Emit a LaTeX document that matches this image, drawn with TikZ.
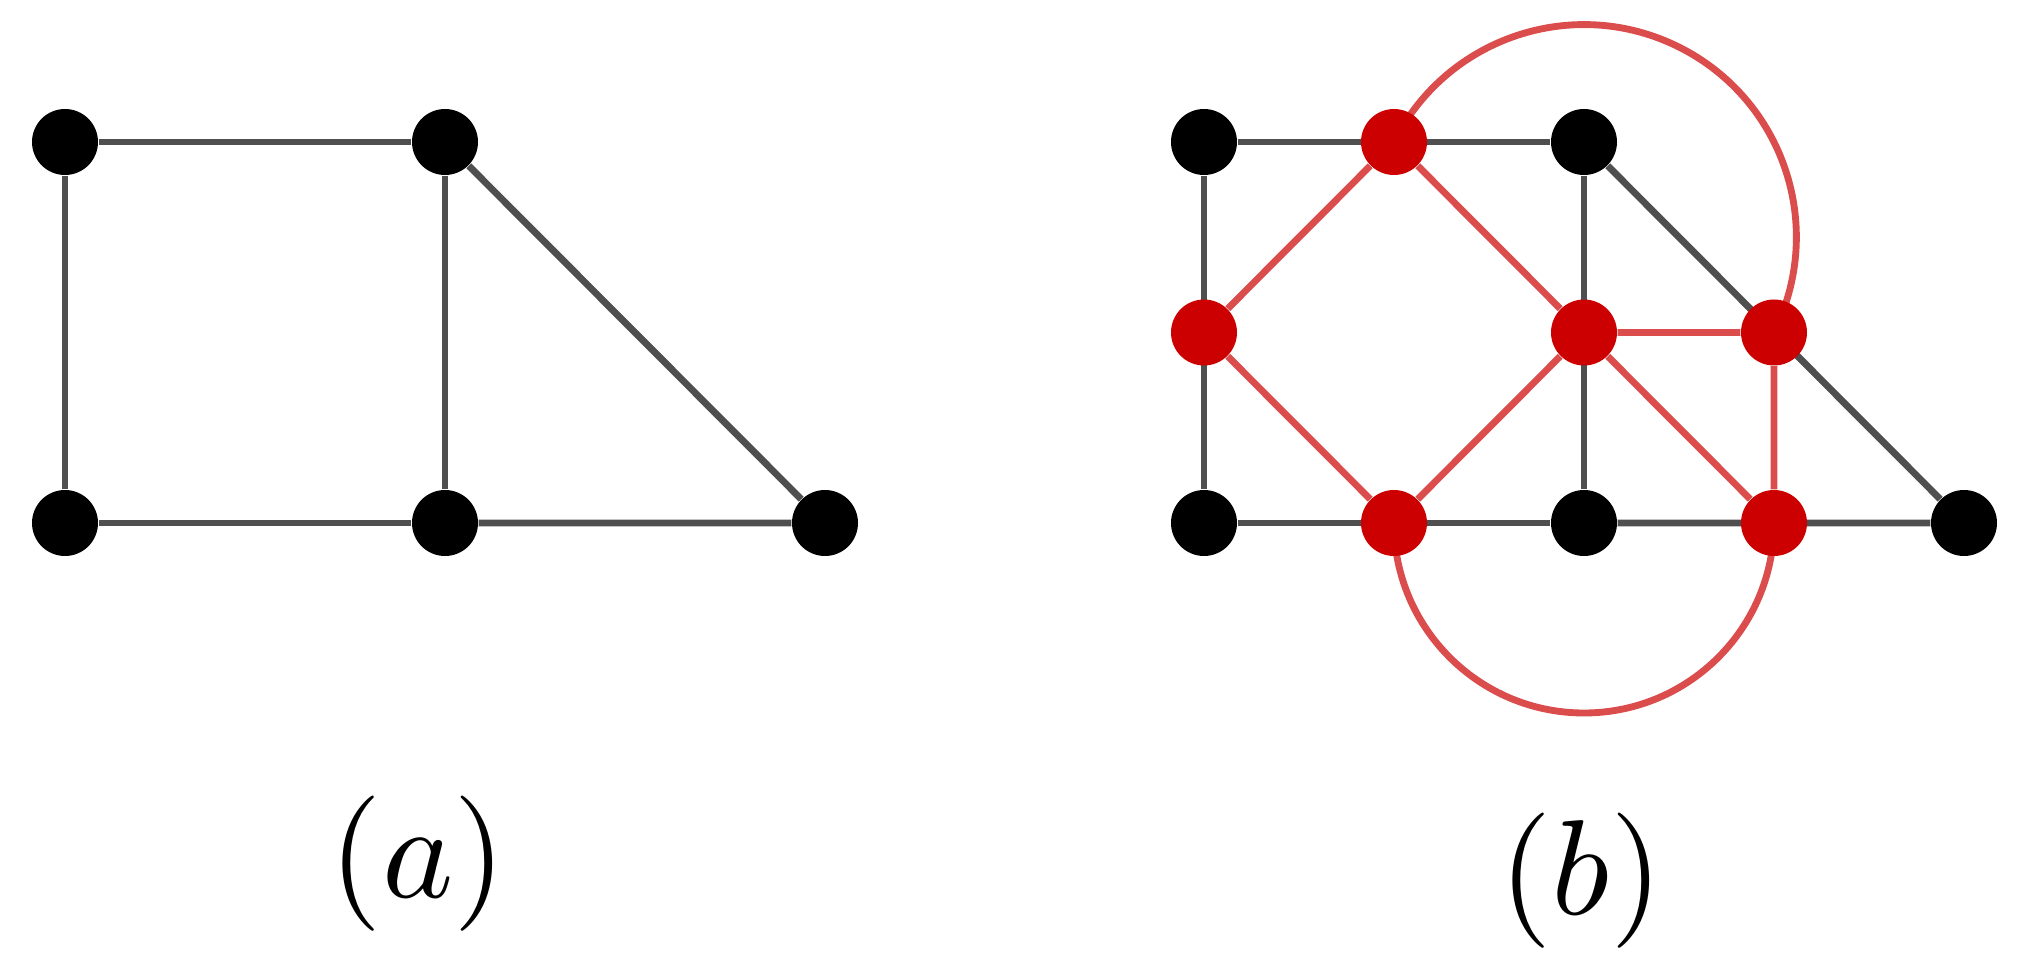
\documentclass[tikz,border=0pt]{standalone}
\usetikzlibrary{backgrounds}
\definecolor{mgray}{rgb}{0.31, 0.31, 0.31}
\definecolor{mred}{rgb}{0.8, 0, 0}
\definecolor{mpink}{rgb}{0.86, 0.3, 0.3}
\tikzset{vert/.style = {fill, circle, inner sep = 0, minimum size = 0.66cm}}
\tikzset{dual/.style = {vert, fill = mred}}
\tikzset{gedge/.style = {draw = mgray, line width = 1.95pt}}
\tikzset{dedge/.style = {draw = mpink, line width = 1.95pt}}
\tikzset{lbl/.style = {inner sep = 0, scale = 3.85}}

\begin{document}
\begin{tikzpicture}
      \useasboundingbox (0, 0) rectangle (20.22, 9.69);

      % (a)
      \node [vert] (a1) at (0.65, 8.27) {};
      \node [vert] (a2) at (4.45, 8.27) {};
      \node [vert] (a3) at (0.65, 4.46) {};
      \node [vert] (a4) at (4.45, 4.46) {};
      \node [vert] (a5) at (8.25, 4.46) {};
      \begin{scope}[on background layer]
        \draw [gedge] (a1) -- (a2) -- (a4) -- (a3) -- (a1);
        \draw [gedge] (a2) -- (a5) -- (a4);
      \end{scope}
      \node [lbl] (la) at (4.18, 1.05) {$(a)$};

      % (b)
      \node [vert] (b1) at (12.04, 8.27) {};
      \node [vert] (b2) at (15.84, 8.27) {};
      \node [vert] (b3) at (12.04, 4.46) {};
      \node [vert] (b4) at (15.84, 4.46) {};
      \node [vert] (b5) at (19.64, 4.46) {};
      \node [dual] (d1) at (13.94, 8.27) {};
      \node [dual] (d2) at (12.04, 6.365) {};
      \node [dual] (d3) at (15.84, 6.365) {};
      \node [dual] (d4) at (17.74, 6.365) {};
      \node [dual] (d5) at (13.94, 4.46) {};
      \node [dual] (d6) at (17.74, 4.46) {};
      \begin{scope}[on background layer]
        \draw [gedge] (b1) -- (b2) -- (b4) -- (b3) -- (b1);
        \draw [gedge] (b2) -- (b5) -- (b4);
        \draw [dedge] (d1) -- (d2) -- (d5) -- (d3) -- (d1);
        \draw [dedge] (d3) -- (d4) -- (d6) -- (d3);
        \draw [dedge] (d1.center) arc [start angle = 153.43, end angle = -26.57, radius = 2.124];
        \draw [dedge] (d5.center) arc [start angle = 180, end angle = 360, radius = 1.9];
      \end{scope}
      \node [lbl] (lb) at (15.81, 0.88) {$(b)$};
\end{tikzpicture}
\end{document}
